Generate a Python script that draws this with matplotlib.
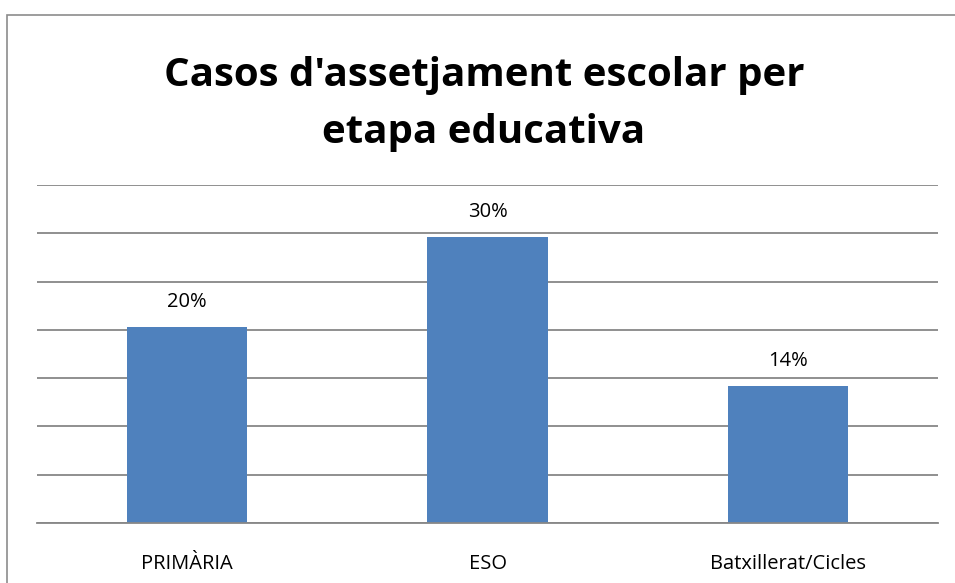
import matplotlib.pyplot as plt
from matplotlib.patches import Rectangle

categories = ['PRIMÀRIA', 'ESO', 'Batxillerat/Cicles']
values = [0.203, 0.296, 0.142]
title = "Casos d'assetjament escolar per\netapa educativa"

plt.rcParams['font.family'] = ['Open Sans', 'DejaVu Sans']

fig = plt.figure(figsize=(9.55, 5.83), dpi=100)
W, H = 955, 583

# chart-area border (cropped on right and bottom)
fig.patches.append(Rectangle((7 / W, -0.1), 1.2, (583 - 15) / H + 0.1,
                             transform=fig.transFigure, fill=False,
                             edgecolor='#8c8c8c', lw=1.2))

ax = fig.add_axes([37 / W, (583 - 523) / H, (938 - 37) / W, (523 - 185) / H])
x = range(len(categories))
bars = ax.bar(x, values, width=0.4, color='#4f81bd', zorder=2)

ax.set_xlim(-0.5, 2.5)
ax.set_ylim(0, 0.35)
ax.set_yticks([i * 0.05 for i in range(8)])
ax.yaxis.grid(True, color='#878787', lw=1.3, zorder=0)
ax.set_axisbelow(True)
ax.tick_params(axis='y', left=False, labelleft=False)
ax.tick_params(axis='x', bottom=False, labelsize=14.5, pad=19)
ax.set_xticks(list(x))
ax.set_xticklabels(categories)
for s in ['top', 'right', 'left']:
    ax.spines[s].set_visible(False)
ax.spines['bottom'].set_color('#878787')
ax.spines['bottom'].set_linewidth(1.3)

for b, v in zip(bars, values):
    ax.annotate(f'{v * 100:.0f}%', (b.get_x() + b.get_width() / 2, v),
                xytext=(0, 11), textcoords='offset points',
                ha='center', va='bottom', fontsize=14.5)

fig.text(484 / W, 1 - 104 / H, title, ha='center', va='center',
         fontsize=29, fontweight='bold', linespacing=1.6)

fig.savefig('out.png', dpi=100)
